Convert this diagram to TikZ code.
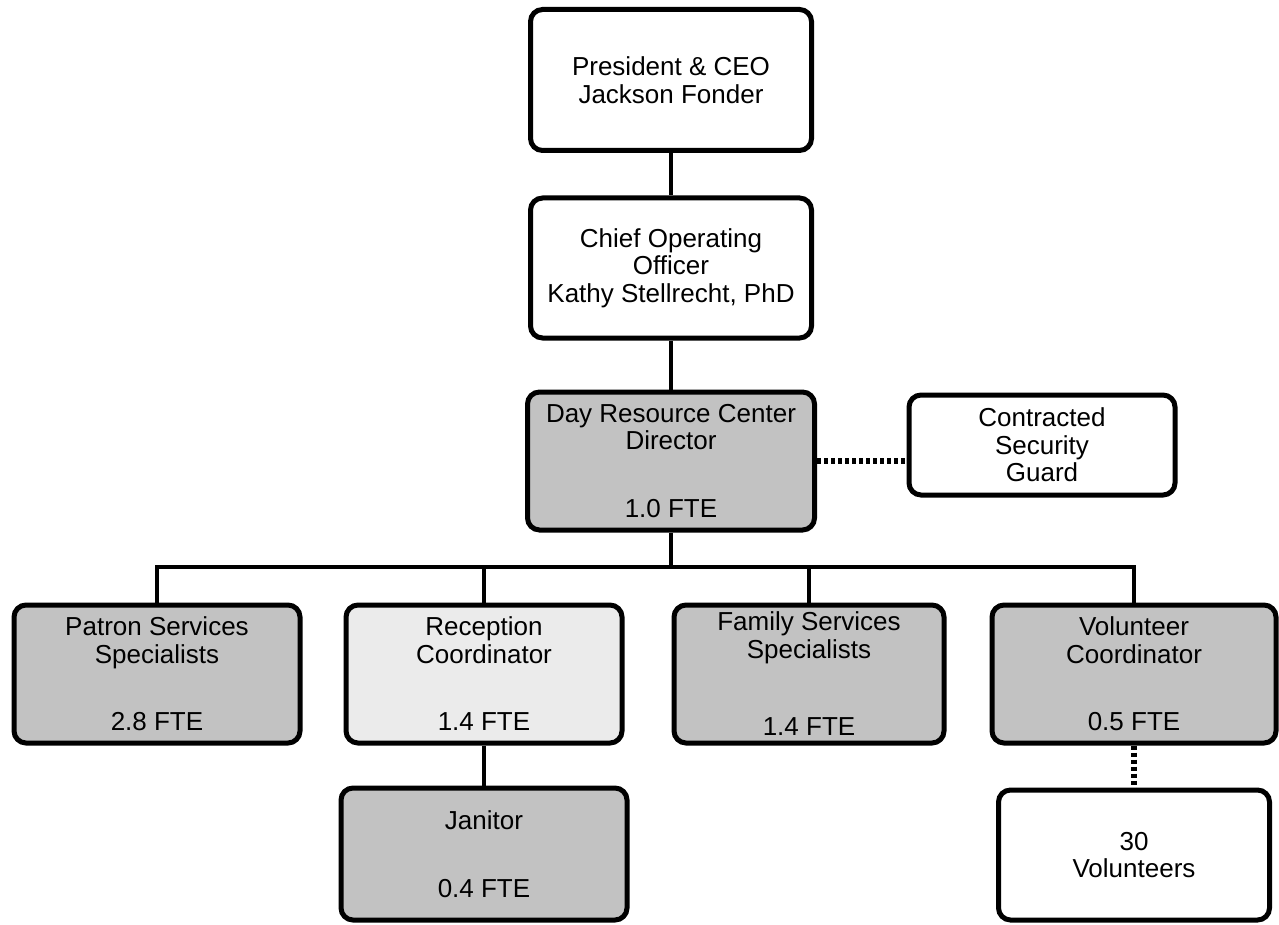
\documentclass[tikz,border=0pt]{standalone}
\usepackage{fontspec}
\setmainfont{Liberation Sans}
\definecolor{staffgray}{gray}{0.76}
\definecolor{lightgray}{gray}{0.92}
\begin{document}
\begin{tikzpicture}[x=1pt,y=-1pt,
	box/.style={draw,line width=5pt,rounded corners=12pt,align=center,
		inner sep=0pt,font=\fontsize{26}{27.5}\selectfont},
	staff/.style={box,fill=staffgray},
	link/.style={line width=4.5pt},
	dotlink/.style={line width=6.5pt,dash pattern=on 4pt off 3pt}]

	\useasboundingbox (0,0) rectangle (1279,925);

	\node[box,minimum width=281pt,minimum height=141pt] (pres) at (671,80)
		{President \& CEO\\Jackson Fonder};

	\node[box,minimum width=281pt,minimum height=140pt] (coo) at (671,268)
		{Chief Operating\\Officer\\Kathy Stellrecht, PhD};

	\node[staff,minimum width=287pt,minimum height=138pt] (dir) at (671,461)
		{Day Resource Center\\Director\\[40pt]1.0 FTE};

	\node[box,minimum width=266pt,minimum height=100pt] (guard) at (1042,445)
		{Contracted\\Security\\Guard};

	\node[staff,minimum width=286pt,minimum height=138pt] (patron) at (157,674)
		{Patron Services\\Specialists\\[40pt]2.8 FTE};

	\node[box,fill=lightgray,minimum width=276pt,minimum height=138pt] (recep) at (484,674)
		{Reception\\Coordinator\\[40pt]1.4 FTE};

	\node[staff,minimum width=270pt,minimum height=138pt] (family) at (809,674)
		{Family Services\\Specialists\\[50pt]1.4 FTE};

	\node[staff,minimum width=284pt,minimum height=138pt] (volco) at (1134,674)
		{Volunteer\\Coordinator\\[40pt]0.5 FTE};

	\node[staff,minimum width=286pt,minimum height=132pt] (janitor) at (484,854)
		{Janitor\\[40pt]0.4 FTE};

	\node[box,minimum width=271pt,minimum height=130pt] (vols) at (1134,855)
		{30\\Volunteers};

	\coordinate (bus) at (671,567);

	\draw[link]  (pres) -- (coo);
	\draw[link]  (coo) -- (dir);
	\draw[link]  (dir) -- (bus);
	\foreach \n in {patron,recep,family,volco}
		\draw[link]  (bus) -| (\n);
	\draw[link]  (recep) -- (janitor);

	\draw[dotlink]  (dir.east) -- (dir.east -| guard.west);
	\draw[dotlink]  (volco) -- (vols);
\end{tikzpicture}
\end{document}
